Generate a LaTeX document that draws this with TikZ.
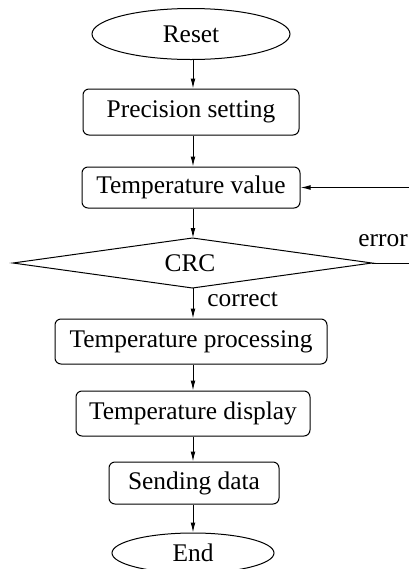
\documentclass[tikz,border=0pt]{standalone}
\usepackage{fontspec}
\setmainfont{Liberation Serif}
\usetikzlibrary{shapes.geometric,arrows.meta}
\begin{document}
\begin{tikzpicture}[x=0.5pt,y=-0.5pt,
  every node/.style={font=\fontsize{12.7}{15}\selectfont, inner sep=0pt},
  proc/.style={draw, rounded corners=3pt, line width=0.5pt},
  term/.style={draw, ellipse, line width=0.5pt},
  arr/.style={line width=0.5pt, -{Latex[length=5pt,width=2.4pt]}},
  lnk/.style={line width=0.5pt}]
\useasboundingbox (0,0) rectangle (408,569);
\node[term, minimum width=99pt, minimum height=25.5pt] (reset) at (191,34) {Reset};
\node[proc, minimum width=108pt, minimum height=23pt] (prec) at (191,112) {Precision setting};
\node[proc, minimum width=109pt, minimum height=20.5pt] (tv) at (191,187.5) {Temperature value};
\node (crc) at (190,263) {CRC};
\coordinate (crcN) at (192.5,238);
\coordinate (crcS) at (192.5,288);
\coordinate (crcW) at (13,263);
\coordinate (crcE) at (372,263);
\draw[lnk] (crcN) -- (crcE) -- (crcS) -- (crcW) -- cycle;
\node[proc, minimum width=136pt, minimum height=22.5pt] (tp) at (191,341.5) {Temperature processing};
\node[proc, minimum width=117pt, minimum height=22.5pt] (td) at (193,413.5) {Temperature display};
\node[proc, minimum width=85pt, minimum height=21pt] (sd) at (194,483) {Sending data};
\node[term, minimum width=81pt, minimum height=20pt] (end) at (193,553) {End};
\coordinate (ax) at (193,0);
\coordinate (loop) at (412,0);
\draw[arr] (reset.south -| ax) -- (prec.north -| ax);
\draw[arr] (prec.south -| ax) -- (tv.north -| ax);
\draw[arr] (tv.south -| ax) -- (crcN -| ax);
\draw[arr] (crcS -| ax) -- (tp.north -| ax);
\draw[arr] (tp.south -| ax) -- (td.north -| ax);
\draw[arr] (td.south -| ax) -- (sd.north -| ax);
\draw[arr] (sd.south -| ax) -- (end.north -| ax);
\draw[arr] (crcE) -- (crcE -| loop) -- (tv.east -| loop) -- (tv.east);
\node[anchor=base west] (err) at (358,246) {error};
\node[anchor=base west] (cor) at (207,306) {correct};
\end{tikzpicture}
\end{document}
